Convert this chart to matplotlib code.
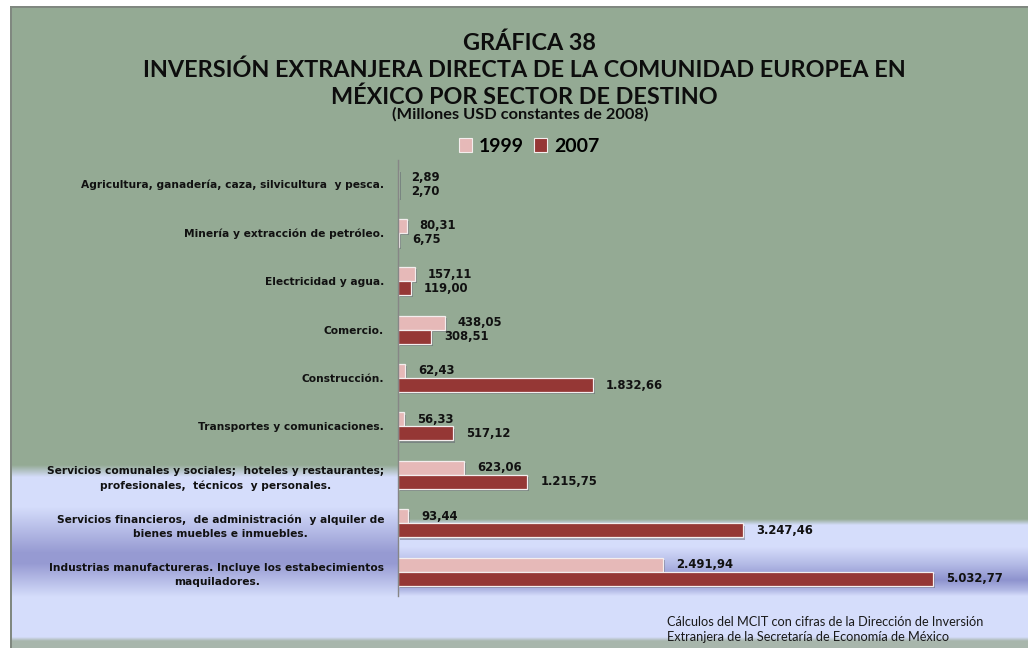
import numpy as np
import matplotlib
matplotlib.use("Agg")
import matplotlib.pyplot as plt
import matplotlib.patheffects as pe
from matplotlib.patches import Patch

# ---- data -------------------------------------------------------------
sectores = [
    "Agricultura, ganadería, caza, silvicultura  y pesca.",
    "Minería y extracción de petróleo.",
    "Electricidad y agua.",
    "Comercio.",
    "Construcción.",
    "Transportes y comunicaciones.",
    "Servicios comunales y sociales;  hoteles y restaurantes;\nprofesionales,  técnicos  y personales.",
    "Servicios financieros,  de administración  y alquiler de\nbienes muebles e inmuebles.",
    "Industrias manufactureras. Incluye los estabecimientos\nmaquiladores.",
]
ied_1999 = [2.89, 80.31, 157.11, 438.05, 62.43, 56.33, 623.06, 93.44, 2491.94]
ied_2007 = [2.70, 6.75, 119.00, 308.51, 1832.66, 517.12, 1215.75, 3247.46, 5032.77]
series_names = ["1999", "2007"]

C1999 = "#E6B9B8"
C2007 = "#953735"
GREEN = np.array([148, 170, 148]) / 255
LIGHT = np.array([213, 221, 251]) / 255
DARK_L = np.array([150, 154, 210]) / 255
DARK_R = np.array([142, 147, 206]) / 255
BOTTOM = np.array([168, 182, 172]) / 255

W, H = 1028, 648
fig = plt.figure(figsize=(W / 100, H / 100), dpi=100)


def fmt(v):
    s = f"{v:,.2f}"
    return s.replace(",", "X").replace(".", ",").replace("X", ".")


# ---- background: green chart area with blue gradient bands ----------
bg = fig.add_axes([0, 0, 1, 1], zorder=0)
bg.set_xlim(0, W)
bg.set_ylim(H, 0)
bg.axis("off")

ys = np.arange(H) + 0.5
img = np.ones((H, W, 3))


def profile(keys):
    yk = [k[0] for k in keys]
    cols = np.array([k[1] for k in keys])
    return np.stack([np.interp(ys, yk, cols[:, c]) for c in range(3)], axis=1)


left_prof = profile([
    (0, GREEN), (465, GREEN), (477, LIGHT), (507, LIGHT),
    (553, DARK_L), (563, DARK_L), (597, LIGHT), (637, LIGHT), (641, BOTTOM), (H, BOTTOM)])
right_prof = profile([
    (0, GREEN), (519, GREEN), (525, LIGHT), (547, LIGHT), (565, (LIGHT + DARK_R) / 2),
    (580, DARK_R), (590, (LIGHT + DARK_R) / 2), (596, LIGHT), (637, LIGHT),
    (641, BOTTOM), (H, BOTTOM)])

axis_px = 398
img[:, :axis_px, :] = left_prof[:, None, :]
img[:, axis_px:, :] = right_prof[:, None, :]
img[:6, :, :] = 1.0
img[:, :10, :] = 1.0
frame = np.array([128, 136, 128]) / 255
img[6:8, 10:, :] = frame
img[6:, 10:12, :] = frame
bg.imshow(img, extent=(0, W, H, 0), aspect="auto", interpolation="bilinear")

# ---- bar chart --------------------------------------------------------
ax_left, ax_right = axis_px / W, 1010 / W
ax_top, ax_bot = 160 / H, 596 / H
ax = fig.add_axes([ax_left, 1 - ax_bot, ax_right - ax_left, ax_bot - ax_top], zorder=1)
ax.patch.set_alpha(0)
px_per_unit = 535 / 5032.77
ax.set_xlim(0, (1010 - axis_px) / px_per_unit)

n = len(sectores)
y = np.arange(n)
h = 0.29
ax.set_ylim(n - 0.5, -0.5)

shadow = [pe.SimplePatchShadow(offset=(1.6, -1.6), shadow_rgbFace="#5a5a6a", alpha=0.45),
          pe.Normal()]
b1 = ax.barh(y - h / 2, ied_1999, height=h, color=C1999, edgecolor="#f4eeee",
             linewidth=0.9, label=series_names[0])
b2 = ax.barh(y + h / 2, ied_2007, height=h, color=C2007, edgecolor="#f4eeee",
             linewidth=0.9, label=series_names[1])
for bars in (b1, b2):
    for p in bars:
        p.set_path_effects(shadow)

for bars, vals in ((b1, ied_1999), (b2, ied_2007)):
    ax.bar_label(bars, labels=[fmt(v) for v in vals], padding=9.5,
                 fontsize=8.4, fontweight="bold", family="DejaVu Sans", color="#111111")

for s in ("top", "right", "bottom"):
    ax.spines[s].set_visible(False)
ax.spines["left"].set_color("#868686")
ax.spines["left"].set_linewidth(1.0)
ax.set_xticks([])
ax.set_yticks(y)
ax.set_yticklabels(sectores, fontsize=7.7, fontweight="bold", family="DejaVu Sans",
                   color="#111111", linespacing=1.55)
for t in ax.get_yticklabels():
    t.set_multialignment("center")
ax.tick_params(axis="y", length=0, pad=10)

# ---- titles, legend, source -------------------------------------------
title_kw = dict(ha="center", va="center", fontweight="bold", family="Lato", color="#0d0d0d")
fig.text(529 / W, 1 - 43 / H, "GRÁFICA 38", fontsize=16.8, **title_kw)
fig.text(524 / W, 1 - 70 / H,
         "INVERSIÓN EXTRANJERA DIRECTA DE LA COMUNIDAD EUROPEA EN", fontsize=16.8, **title_kw)
fig.text(524 / W, 1 - 97 / H, "MÉXICO POR SECTOR DE DESTINO", fontsize=16.8, **title_kw)
fig.text(520 / W, 1 - 114 / H, "(Millones USD constantes de 2008)", fontsize=11.8, **title_kw)

handles = [Patch(facecolor=C1999, edgecolor="#f4eeee", linewidth=0.8),
           Patch(facecolor=C2007, edgecolor="#f4eeee", linewidth=0.8)]
fig.legend(handles, series_names, loc="center", bbox_to_anchor=(529 / W, 1 - 146 / H),
           ncol=2, frameon=False, handlelength=0.7, handleheight=0.7, handletextpad=0.35,
           columnspacing=0.5, prop={"family": "Lato", "weight": "bold", "size": 14})

fig.text(667 / W, 1 - 629.5 / H,
         "Cálculos del MCIT con cifras de la Dirección de Inversión\n"
         "Extranjera de la Secretaría de Economía de México",
         ha="left", va="center", fontsize=9.15, family="Lato", color="#1a1a1a",
         linespacing=1.3)

fig.savefig("out.png", dpi=100)
